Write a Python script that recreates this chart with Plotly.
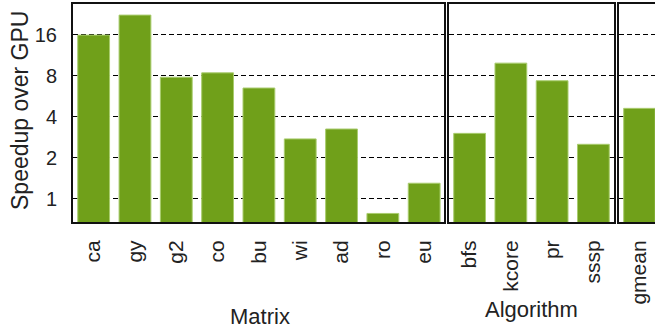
import plotly.graph_objects as go

matrix_cats = ["ca", "gy", "g2", "co", "bu", "wi", "ad", "ro", "eu"]
matrix_vals = [15.9, 22.3, 7.8, 8.4, 6.5, 2.75, 3.25, 0.78, 1.30]
algo_cats = ["bfs", "kcore", "pr", "sssp"]
algo_vals = [3.02, 9.9, 7.35, 2.51]
mean_cats = ["gmean"]
mean_vals = [4.61]
ytick_vals = [1, 2, 4, 8, 16]
ytick_text = ["1", "2", "4", "8", "16"]

BAR = "#70a01a"
EDGE = "#a9cc6e"
LINE = "#111111"
FONT = "Liberation Sans, Arial, sans-serif"
TXT = "#222222"

fig = go.Figure()
for i, (c, v) in enumerate([(matrix_cats, matrix_vals), (algo_cats, algo_vals), (mean_cats, mean_vals)]):
    fig.add_trace(go.Bar(x=c, y=v, width=0.77, marker=dict(color=BAR, line=dict(color=EDGE, width=1)),
                         xaxis="x" if i == 0 else f"x{i+1}", yaxis="y" if i == 0 else f"y{i+1}",
                         showlegend=False, hoverinfo="skip"))

W, H = 655, 331
L, R, T, B = 73, 0, 4, 109
PW = W - L - R
PH = H - T - B

def dom(a, b):
    return [(a - L) / PW, (b - L) / PW]

yr = [-0.1707, 1.4298]
common_x = dict(showline=True, linewidth=2, linecolor=LINE, mirror=True, ticks="", tickangle=-90,
                ticklabelstandoff=8,
                tickfont=dict(family=FONT, size=21, color=TXT), showgrid=False, type="category")
common_y = dict(type="log", range=yr, showline=True, linewidth=2, linecolor=LINE, ticks="",
                showgrid=True, gridcolor="#000000", gridwidth=1, griddash="5px,3px",
                tickvals=ytick_vals, ticktext=ytick_text, zeroline=False)

def ann(text, px, py, angle=0, size=22):
    return dict(text=text, x=(px - L) / PW, y=(H - B - py) / PH, xref="paper", yref="paper",
                xanchor="center", yanchor="middle", textangle=angle, showarrow=False,
                font=dict(family=FONT, size=size, color=TXT))

fig.update_layout(
    width=W, height=H, margin=dict(l=L, r=R, t=T, b=B),
    paper_bgcolor="white", plot_bgcolor="white",
    font=dict(family=FONT, size=20, color=TXT),
    xaxis=dict(domain=dom(73, 444), range=[-0.5, 8.48], anchor="y", **common_x),
    xaxis2=dict(domain=dom(449, 614), range=[-0.5, 3.5], anchor="y2", **common_x),
    xaxis3=dict(domain=dom(619, 655), range=[-0.5, 0.38], anchor="y3", **common_x),
    yaxis=dict(anchor="x", mirror=True, showticklabels=True, ticklabelstandoff=10,
               tickfont=dict(family=FONT, size=20, color=TXT), **common_y),
    yaxis2=dict(anchor="x2", mirror=True, showticklabels=False, **common_y),
    yaxis3=dict(anchor="x3", mirror=False, showticklabels=False, **common_y),
    annotations=[
        ann("Speedup over GPU", 20, 111, angle=-90, size=23),
        ann("Matrix", 260, 316),
        ann("Algorithm", 531, 309),
    ],
)
fig.write_html("out.html")
